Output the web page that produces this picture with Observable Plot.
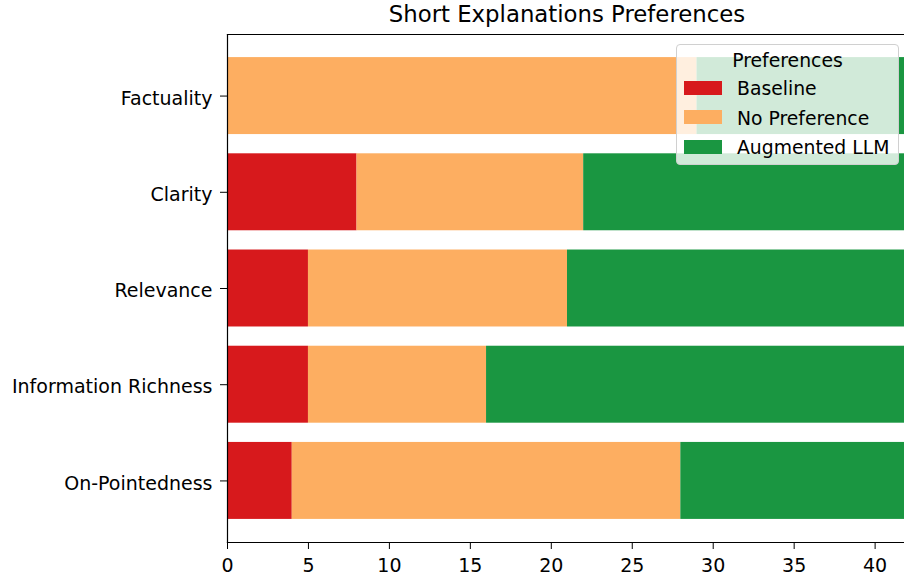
<!DOCTYPE html>
<html>
<head>
<meta charset="utf-8">
<script src="https://cdn.jsdelivr.net/npm/d3@7"></script>
<script src="https://cdn.jsdelivr.net/npm/@observablehq/plot@0.6"></script>
<style>
  html, body { margin: 0; padding: 0; background: #fff; overflow: hidden; }
  body { width: 904px; height: 580px; position: relative; font-family: "DejaVu Sans", sans-serif; }
  #title { position: absolute; left: 227px; width: 680px; top: 0; height: 29px; text-align: center; font-size: 22.8px; line-height: 29px; color: #000; }
  #chart { position: absolute; left: 0; top: 30px; }
  #legend { position: absolute; left: 676px; top: 44px; width: 221px; height: 119px; background: rgba(255,255,255,0.8); border: 1px solid #d0d0d0; border-radius: 4px; font-size: 18.8px; color: #000; }
  #legend .ttl { position: absolute; left: 0; width: 100%; top: 4px; text-align: center; line-height: 24px; }
  #legend .row { position: absolute; left: 7px; height: 24px; line-height: 24px; white-space: nowrap; }
  #legend .sw { display: inline-block; width: 38px; height: 14px; vertical-align: middle; margin-right: 15px; position: relative; top: -2px; }
</style>
</head>
<body>
<div id="title">Short Explanations Preferences</div>
<div id="chart"></div>
<div id="legend"></div>
<script>
const categories = ["Factuality", "Clarity", "Relevance", "Information Richness", "On-Pointedness"];
const seriesNames = ["Baseline", "No Preference", "Augmented LLM"];
const seriesColors = ["#d7191c", "#fdae61", "#1a9641"];
const baseline = [0, 8, 5, 5, 4];
const noPreference = [29, 14, 16, 11, 24];
const augmented = [21, 28, 29, 34, 22];
const xTicks = [0, 5, 10, 15, 20, 25, 30, 35, 40];

const seriesValues = [baseline, noPreference, augmented];
const data = [];
categories.forEach((c, i) => {
  seriesNames.forEach((s, j) => data.push({category: c, series: s, value: seriesValues[j][i]}));
});

const plot = Plot.plot({
  width: 907,
  height: 550,
  marginLeft: 227,
  marginRight: 0,
  marginTop: 4,
  marginBottom: 38,
  style: {fontFamily: "DejaVu Sans", fontSize: "19px", color: "#000", maxWidth: "none", overflow: "hidden"},
  x: {domain: [0, 42], ticks: xTicks, label: null},
  y: {domain: categories, paddingInner: 0.2, paddingOuter: 0.24, align: 0.5, round: false, label: null},
  color: {domain: seriesNames, range: seriesColors},
  marks: [
    Plot.barX(data, Plot.stackX({x: "value", y: "category", fill: "series", z: "series", order: seriesNames, clip: true})),
    Plot.frame({anchor: "left", stroke: "#000", strokeWidth: 1.2}),
    Plot.frame({anchor: "bottom", stroke: "#000", strokeWidth: 1.2}),
    Plot.frame({anchor: "top", stroke: "#000", strokeWidth: 1.2}),
    Plot.axisX({ticks: xTicks, tickSize: 7, tickPadding: 9, fontSize: "19px", label: null}),
    Plot.axisY({tickSize: 7, text: null, label: null}),
    Plot.axisY({tickSize: 0, tickPadding: 15, fontSize: "19px", dy: 2.5, label: null})
  ]
});
document.getElementById("chart").appendChild(plot);

const legend = d3.select("#legend");
legend.append("div").attr("class", "ttl").text("Preferences");
seriesNames.forEach((s, j) => {
  const row = legend.append("div").attr("class", "row").style("top", (32 + j * 29.5) + "px");
  row.append("span").attr("class", "sw").style("background", seriesColors[j]);
  row.append("span").text(s);
});
</script>
</body>
</html>
